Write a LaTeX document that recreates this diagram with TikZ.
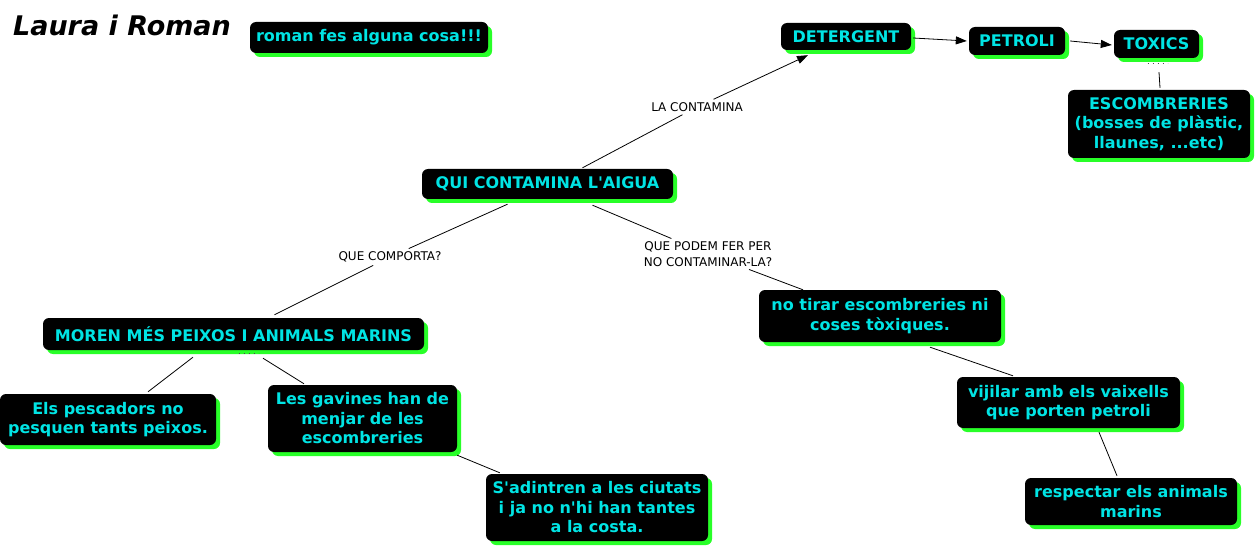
\documentclass[tikz,border=0pt]{standalone}
\usepackage{fontspec}
\setmainfont{DejaVu Sans}[Ligatures=TeXOff]
\usetikzlibrary{shadows,arrows.meta,calc}
\definecolor{nodecyan}{RGB}{0,228,228}
\definecolor{shadowgreen}{RGB}{40,255,40}
\tikzset{
  concept/.style={fill=black, rounded corners=6pt, text=nodecyan,
    font=\bfseries\fontsize{16}{19.5}\selectfont, align=center, inner sep=0pt,
    drop shadow={shadow xshift=4pt, shadow yshift=-4pt, fill=shadowgreen, opacity=1}},
  linklabel/.style={font=\fontsize{12}{15.5}\selectfont, align=center, inner sep=3pt},
  link/.style={draw=black, line width=0.8pt},
  arrowlink/.style={link, -{Triangle[length=11pt,width=8pt]}},
  dotmark/.style={draw=black!70, line width=1pt, dash pattern=on 1pt off 4pt},
}
\begin{document}
\begin{tikzpicture}[x=1pt,y=-1pt]
\path[use as bounding box] (0,0) rectangle (1258,548);
\node[inner sep=0pt] (title) at (122,25) {\bfseries\itshape\fontsize{27}{27}\selectfont Laura i Roman};
\node[concept, minimum width=238, minimum height=31] (roman) at (369,37.5) {roman fes alguna cosa!!!};
\node[concept, minimum width=130, minimum height=27] (det) at (846,36.5) {DETERGENT};
\node[concept, minimum width=96, minimum height=28] (pet) at (1017,41) {PETROLI};
\node[concept, minimum width=85, minimum height=28] (tox) at (1156.5,44) {TOXICS};
\node[concept, minimum width=182, minimum height=68] (esc) at (1159,124) {ESCOMBRERIES\\(bosses de plàstic,\\llaunes, ...etc)};
\node[concept, minimum width=251, minimum height=30] (qui) at (547.5,184) {QUI CONTAMINA L'AIGUA};
\node[concept, minimum width=381, minimum height=32] (moren) at (233.5,334) {MOREN MÉS PEIXOS I ANIMALS MARINS};
\node[concept, minimum width=216, minimum height=51] (pesc) at (108,419.5) {Els pescadors no\\pesquen tants peixos.};
\node[concept, minimum width=189, minimum height=67] (gav) at (362.5,418.5) {Les gavines han de\\menjar de les\\escombreries};
\node[concept, minimum width=222, minimum height=67] (sad) at (597,507.5) {S'adintren a les ciutats\\i ja no n'hi han tantes\\a la costa.};
\node[concept, minimum width=242, minimum height=52] (notir) at (880,316) {no tirar escombreries ni\\coses tòxiques.};
\node[concept, minimum width=223, minimum height=51] (vij) at (1068.5,402.5) {vijilar amb els vaixells\\que porten petroli};
\node[concept, minimum width=212, minimum height=47] (resp) at (1131,501.5) {respectar els animals\\marins};

\node[linklabel] (l1) at (697,107) {LA CONTAMINA};
\node[linklabel] (l2) at (390,257) {QUE COMPORTA?};
\node[linklabel] (l3) at (708,254) {QUE PODEM FER PER\\NO CONTAMINAR-LA?};

\draw[link] ($(qui.north)+(35,-1)$) -- (l1);
\draw[arrowlink] (l1) -- ($(det.south)+(-38,5)$);
\draw[link] ($(qui.south)+(-40,5)$) -- (l2);
\draw[link] (l2) -- ($(moren.north)+(41,-3)$);
\draw[link] ($(qui.south)+(45,6)$) -- (l3);
\draw[link] (l3) -- ($(notir.north)+(-77,0)$);

\draw[arrowlink] ($(det.east)+(2,1.5)$) -- ($(pet.west)+(-2,0)$);
\draw[arrowlink] ($(pet.east)+(5,0)$) -- ($(tox.west)+(-2,1)$);

\coordinate (td1) at ($(tox.south)+(-9,5)$);
\coordinate (td2) at ($(tox.south)+(11,5)$);
\draw[dotmark] (td1) -- (td2);
\draw[link] ($(tox.south)+(2.5,14)$) -- ($(esc.north)+(1,-2)$);

\coordinate (md1) at ($(moren.south)+(5,3)$);
\coordinate (md2) at ($(moren.south)+(25,3)$);
\draw[dotmark] (md1) -- (md2);
\draw[link] ($(moren.south)+(-40.5,7)$) -- ($(pesc.north)+(40,-2)$);
\draw[link] ($(moren.south)+(29.5,8)$) -- ($(gav.north)+(-58.5,-1)$);

\draw[link] ($(gav.south east)+(0,3)$) -- ($(sad.north west)+(14,-1)$);
\draw[link] ($(notir.south)+(50,5)$) -- ($(vij.north)+(-55.5,-1)$);
\draw[link] ($(vij.south)+(30.5,4)$) -- ($(resp.north)+(-14,-2)$);
\end{tikzpicture}
\end{document}
